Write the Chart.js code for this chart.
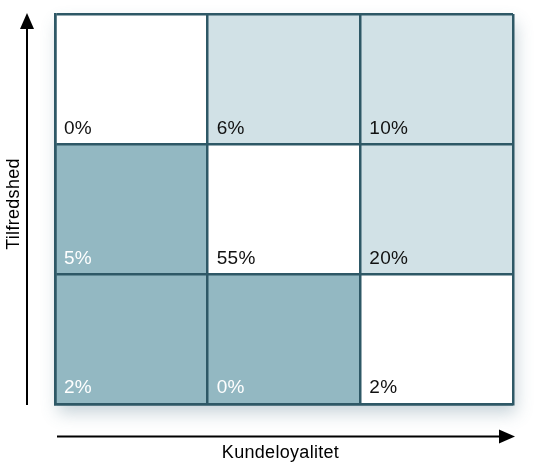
<!DOCTYPE html>
<html>
<head>
<meta charset="utf-8">
<script src="https://cdn.jsdelivr.net/npm/chart.js@4/dist/chart.umd.min.js"></script>
<style>
  html, body { margin: 0; padding: 0; background: #fff; }
  #wrap { width: 537px; height: 464px; }
</style>
</head>
<body>
<div id="wrap"><canvas id="chart" width="537" height="464"></canvas></div>
<script>
// columns = Kundeloyalitet (low -> high), rows = Tilfredshed (low -> high)
const columns = ['Lav', 'Middel', 'Høj'];
const rowNames = ['Lav', 'Middel', 'Høj'];
// shares in percent, bottom row first
const shareLow = [2, 0, 2];
const shareMid = [5, 55, 20];
const shareHigh = [0, 6, 10];
// shade per cell: 0 = white, 1 = light, 2 = dark
const shadeLow = [2, 2, 0];
const shadeMid = [2, 0, 1];
const shadeHigh = [0, 1, 1];

const xTitle = 'Kundeloyalitet';
const yTitle = 'Tilfredshed';

const fills = ['#ffffff', '#d1e1e6', '#93b8c2'];
const textColors = ['#111111', '#111111', '#ffffff'];
const lineColor = '#2e5866';

const rows = [
  { name: rowNames[0], share: shareLow, shade: shadeLow },
  { name: rowNames[1], share: shareMid, shade: shadeMid },
  { name: rowNames[2], share: shareHigh, shade: shadeHigh }
];

const shadowPlugin = {
  id: 'shadow',
  beforeDatasetsDraw(chart) {
    const { ctx, chartArea: a } = chart;
    ctx.save();
    ctx.shadowColor = 'rgba(70, 110, 130, 0.3)';
    ctx.shadowBlur = 16;
    ctx.shadowOffsetX = 3;
    ctx.shadowOffsetY = 9;
    ctx.fillStyle = '#ffffff';
    ctx.fillRect(a.left, a.top, a.right - a.left, a.bottom - a.top);
    ctx.restore();
  }
};

const cellLabels = {
  id: 'cellLabels',
  afterDraw(chart) {
    const { ctx } = chart;
    ctx.save();
    ctx.font = '19px "Liberation Sans", Arial, sans-serif';
    ctx.letterSpacing = '0.3px';
    ctx.textAlign = 'left';
    ctx.textBaseline = 'alphabetic';
    chart.data.datasets.forEach((ds, di) => {
      const meta = chart.getDatasetMeta(di);
      meta.data.forEach((bar, i) => {
        const left = bar.x - bar.width / 2;
        const bottom = Math.max(bar.y, bar.base);
        ctx.fillStyle = textColors[rows[di].shade[i]];
        ctx.fillText(rows[di].share[i] + '%', left + 9, bottom - 10);
      });
    });
    ctx.restore();
  }
};

const axisArrows = {
  id: 'axisArrows',
  afterDraw(chart) {
    const { ctx, chartArea: a } = chart;
    ctx.save();
    ctx.strokeStyle = '#000';
    ctx.fillStyle = '#000';
    ctx.lineWidth = 2;
    // vertical arrow
    const vx = 27;
    ctx.beginPath();
    ctx.moveTo(vx, a.bottom + 1);
    ctx.lineTo(vx, a.top + 10);
    ctx.stroke();
    ctx.beginPath();
    ctx.moveTo(vx, a.top - 1);
    ctx.lineTo(vx - 7, a.top + 15);
    ctx.lineTo(vx + 7, a.top + 15);
    ctx.closePath();
    ctx.fill();
    // horizontal arrow
    const hy = 436.5;
    ctx.beginPath();
    ctx.moveTo(a.left + 2, hy);
    ctx.lineTo(a.right - 10, hy);
    ctx.stroke();
    ctx.beginPath();
    ctx.moveTo(a.right + 2, hy);
    ctx.lineTo(a.right - 14, hy - 7);
    ctx.lineTo(a.right - 14, hy + 7);
    ctx.closePath();
    ctx.fill();
    // titles
    ctx.font = '18px "Liberation Sans", Arial, sans-serif';
    ctx.letterSpacing = '0.3px';
    ctx.textAlign = 'center';
    ctx.textBaseline = 'alphabetic';
    ctx.fillText(xTitle, 280.5, 458);
    ctx.translate(19, 204);
    ctx.rotate(-Math.PI / 2);
    ctx.fillText(yTitle, 0, 0);
    ctx.restore();
  }
};

new Chart(document.getElementById('chart'), {
  type: 'bar',
  data: {
    labels: columns,
    datasets: rows.map(r => ({
      label: r.name,
      data: r.share.map(() => 1),
      backgroundColor: r.shade.map(s => fills[s]),
      borderWidth: 0,
      barPercentage: 1,
      categoryPercentage: 1
    }))
  },
  options: {
    responsive: false,
    animation: false,
    devicePixelRatio: 1,
    layout: { padding: { left: 55, right: 24, top: 14, bottom: 60 } },
    plugins: { legend: { display: false }, tooltip: { enabled: false } },
    scales: {
      x: {
        stacked: true,
        offset: true,
        ticks: { display: false },
        grid: { offset: true, color: lineColor, lineWidth: 2.5, drawTicks: false, z: 1 },
        border: { display: true, color: lineColor, width: 2.5, z: 1 }
      },
      y: {
        stacked: true,
        min: 0,
        max: 3,
        ticks: { display: false, stepSize: 1 },
        grid: { color: lineColor, lineWidth: 2.5, drawTicks: false, z: 1 },
        border: { display: true, color: lineColor, width: 2.5, z: 1 }
      }
    }
  },
  plugins: [shadowPlugin, cellLabels, axisArrows]
});
</script>
</body>
</html>
